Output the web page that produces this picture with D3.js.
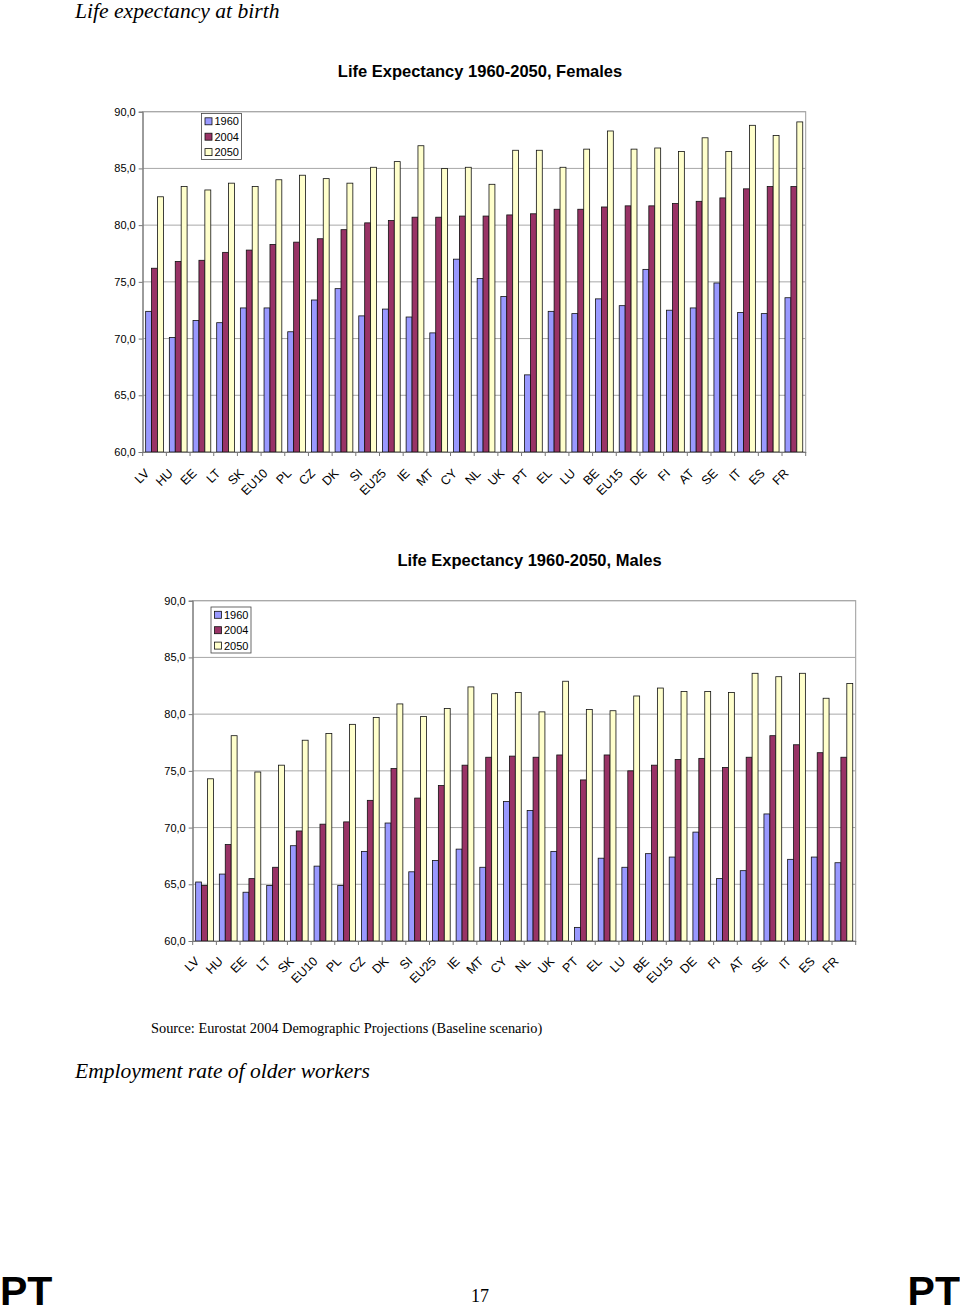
<!DOCTYPE html>
<html>
<head>
<meta charset="utf-8">
<script src="https://cdn.jsdelivr.net/npm/d3@7"></script>
<style>
  html, body { margin: 0; padding: 0; background: #fff; }
  svg { display: block; }
</style>
</head>
<body>
<svg id="page" width="960" height="1306"></svg>
<script>
// ---------- DATA ----------
const categories = ["LV","HU","EE","LT","SK","EU10","PL","CZ","DK","SI","EU25","IE","MT","CY","NL","UK","PT","EL","LU","BE","EU15","DE","FI","AT","SE","IT","ES","FR"];
const seriesNames = ["1960","2004","2050"];
const yTicks = [60, 65, 70, 75, 80, 85, 90];

const females1960 = [72.4,70.1,71.6,71.4,72.7,72.7,70.6,73.4,74.4,72.0,72.6,71.9,70.5,77.0,75.3,73.7,66.8,72.4,72.2,73.5,72.9,76.1,72.5,72.7,74.9,72.3,72.2,73.6];
const females2004 = [76.2,76.8,76.9,77.6,77.8,78.3,78.5,78.8,79.6,80.2,80.4,80.7,80.7,80.8,80.8,80.9,81.0,81.4,81.4,81.6,81.7,81.7,81.9,82.1,82.4,83.2,83.4,83.4];
const females2050 = [82.5,83.4,83.1,83.7,83.4,84.0,84.4,84.1,83.7,85.1,85.6,87.0,85.0,85.1,83.6,86.6,86.6,85.1,86.7,88.3,86.7,86.8,86.5,87.7,86.5,88.8,87.9,89.1];

const males1960 = [65.2,65.9,64.3,64.9,68.4,66.6,64.9,67.9,70.4,66.1,67.1,68.1,66.5,72.3,71.5,67.9,61.2,67.3,66.5,67.7,67.4,69.6,65.5,66.2,71.2,67.2,67.4,66.9];
const males2004 = [64.9,68.5,65.5,66.5,69.7,70.3,70.5,72.4,75.2,72.6,73.7,75.5,76.2,76.3,76.2,76.4,74.2,76.4,75.0,75.5,76.0,76.1,75.3,76.2,78.1,77.3,76.6,76.2];
const males2050 = [74.3,78.1,74.9,75.5,77.7,78.3,79.1,79.7,80.9,79.8,80.5,82.4,81.8,81.9,80.2,82.9,80.4,80.3,81.6,82.3,82.0,82.0,81.9,83.6,83.3,83.6,81.4,82.7];

const seriesColors = ["#9999ff", "#993366", "#ffffcc"];

// ---------- DRAW ----------
const svg = d3.select("#page");
const SANS = "'Liberation Sans', Arial, sans-serif";
const SERIF = "'Liberation Serif', 'Times New Roman', serif";

function drawChart(cfg) {
  const {left, top, width, height, title, titleX, titleY, legendX, legendY, labelDy, series} = cfg;
  const g = svg.append("g");

  const x = d3.scaleBand().domain(categories).range([left, left + width]).paddingInner(0).paddingOuter(0);
  const y = d3.scaleLinear().domain([60, 90]).range([top + height, top]);
  const xs = d3.scaleBand().domain(seriesNames).range([0, x.bandwidth()]).paddingInner(0).paddingOuter(0.5);

  // plot frame
  g.append("rect").attr("x", left).attr("y", top).attr("width", width).attr("height", height)
    .attr("fill", "#fff").attr("stroke", "#9a9a9a").attr("stroke-width", 1);

  // gridlines
  g.append("g").selectAll("line").data(yTicks.filter(t => t > 60)).join("line")
    .attr("x1", left).attr("x2", left + width)
    .attr("y1", d => y(d)).attr("y2", d => y(d))
    .attr("stroke", "#a8a8a8").attr("stroke-width", 1);

  // bars
  const groups = g.append("g").selectAll("g").data(categories).join("g")
    .attr("transform", d => `translate(${x(d)},0)`);
  groups.selectAll("rect").data((d, i) => seriesNames.map((s, k) => ({s, v: series[k][i]}))).join("rect")
    .attr("x", d => xs(d.s))
    .attr("width", xs.bandwidth())
    .attr("y", d => y(d.v))
    .attr("height", d => y(60) - y(d.v))
    .attr("fill", (d, k) => seriesColors[k])
    .attr("stroke", "#111").attr("stroke-width", 0.8);

  // y axis
  const yAxis = d3.axisLeft(y).tickValues(yTicks).tickSize(4).tickPadding(3)
    .tickFormat(d => d3.format(".1f")(d).replace(".", ","));
  const ya = g.append("g").attr("transform", `translate(${left},0)`).call(yAxis);
  ya.select(".domain").attr("stroke", "#777");
  ya.selectAll(".tick line").attr("stroke", "#777");
  ya.selectAll("text").attr("font-family", SANS).attr("font-size", 11).attr("fill", "#000");

  // x axis
  const xAxis = d3.axisBottom(x).tickSize(0).tickFormat("");
  const xa = g.append("g").attr("transform", `translate(0,${top + height})`).call(xAxis);
  xa.select(".domain").attr("stroke", "#777");
  xa.selectAll(".tick").remove();
  const bounds = categories.map(c => x(c)).concat([left + width]);
  xa.selectAll("line.bt").data(bounds).join("line").attr("class", "bt")
    .attr("x1", d => d).attr("x2", d => d).attr("y1", 0).attr("y2", 4)
    .attr("stroke", "#777");
  xa.selectAll("text.cat").data(categories).join("text").attr("class", "cat")
    .attr("transform", d => `translate(${x(d) + x.bandwidth() / 2 - 4.5},${labelDy}) rotate(-45)`)
    .attr("text-anchor", "end")
    .attr("font-family", SANS).attr("font-size", 12.5).attr("fill", "#000")
    .text(d => d);

  // title
  g.append("text").attr("x", titleX).attr("y", titleY).attr("text-anchor", "middle")
    .attr("font-family", SANS).attr("font-weight", "bold").attr("font-size", 16.5)
    .text(title);

  // legend
  const lg = g.append("g").attr("transform", `translate(${legendX},${legendY})`);
  lg.append("rect").attr("width", 40).attr("height", 46).attr("fill", "#fff")
    .attr("stroke", "#444").attr("stroke-width", 0.8);
  const items = lg.selectAll("g").data(seriesNames).join("g")
    .attr("transform", (d, i) => `translate(3.5,${7.8 + i * 15.4})`);
  items.append("rect").attr("x", 0).attr("y", -3.5).attr("width", 7).attr("height", 7)
    .attr("fill", (d, i) => seriesColors[i]).attr("stroke", "#111").attr("stroke-width", 0.8);
  items.append("text").attr("x", 9.5).attr("y", 4)
    .attr("font-family", SANS).attr("font-size", 11).text(d => d);
}

drawChart({
  left: 142.7, top: 111.7, width: 663, height: 340.3,
  title: "Life Expectancy 1960-2050, Females", titleX: 480, titleY: 77,
  legendX: 201.5, legendY: 113.5, labelDy: 22,
  series: [females1960, females2004, females2050]
});

drawChart({
  left: 192.7, top: 600.7, width: 663, height: 340.3,
  title: "Life Expectancy 1960-2050, Males", titleX: 529.5, titleY: 566,
  legendX: 211, legendY: 607, labelDy: 21,
  series: [males1960, males2004, males2050]
});

// page texts
svg.append("text").attr("x", 75).attr("y", 17.5)
  .attr("font-family", SERIF).attr("font-style", "italic").attr("font-size", 21.6)
  .text("Life expectancy at birth");
svg.append("text").attr("x", 151).attr("y", 1033)
  .attr("font-family", SERIF).attr("font-size", 14.35)
  .text("Source: Eurostat 2004 Demographic Projections (Baseline scenario)");
svg.append("text").attr("x", 75).attr("y", 1078)
  .attr("font-family", SERIF).attr("font-style", "italic").attr("font-size", 21.5)
  .text("Employment rate of older workers");
svg.append("text").attr("x", 0).attr("y", 1305)
  .attr("font-family", SANS).attr("font-weight", "bold").attr("font-size", 41)
  .text("PT");
svg.append("text").attr("x", 960).attr("y", 1305).attr("text-anchor", "end")
  .attr("font-family", SANS).attr("font-weight", "bold").attr("font-size", 41)
  .text("PT");
svg.append("text").attr("x", 480).attr("y", 1302).attr("text-anchor", "middle")
  .attr("font-family", SERIF).attr("font-size", 18)
  .text("17");
</script>
</body>
</html>
